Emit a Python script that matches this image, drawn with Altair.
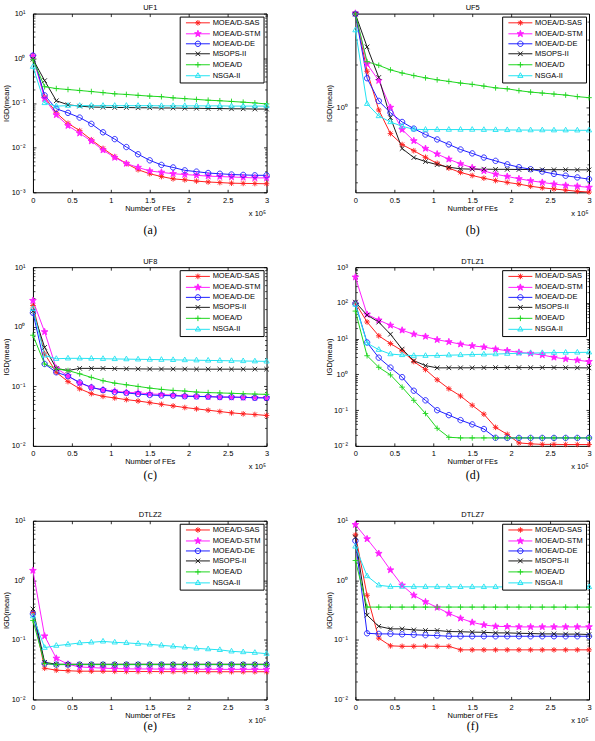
import math

import altair as alt
import pandas as pd

FONT = "Liberation Sans"
SERIF = "Liberation Serif"

# Evaluations, in units of 10^5 FEs
FES = [0.00, 0.15, 0.30, 0.45, 0.60, 0.75, 0.90, 1.05, 1.20, 1.35, 1.50,
       1.65, 1.80, 1.95, 2.10, 2.25, 2.40, 2.55, 2.70, 2.85, 3.00]

ALGORITHMS = ["MOEA/D-SAS", "MOEA/D-STM", "MOEA/D-DE", "MSOPS-II", "MOEA/D", "NSGA-II"]
COLORS = ["#ff1f1f", "#ff1fff", "#1f1fff", "#1a1a1a", "#1fd61f", "#22e3f2"]
FILLS = ["#ff1f1f", "#ff1fff", "transparent", "transparent", "transparent", "transparent"]
MARKERS = ["asterisk", "star", "circle", "x", "plus", "triangle"]

UF1 = {
    "MOEA/D-SAS": [1.15, 0.136, 0.060, 0.035, 0.024, 0.015, 0.0096, 0.0063, 0.0044, 0.0032, 0.0026,
                   0.00225, 0.0020, 0.0019, 0.00178, 0.0017, 0.00165, 0.0016, 0.00158, 0.00157, 0.00155],
    "MOEA/D-STM": [1.10, 0.125, 0.054, 0.031, 0.021, 0.014, 0.0088, 0.0060, 0.0044, 0.0036, 0.0030,
                   0.0028, 0.0026, 0.0025, 0.0024, 0.0023, 0.00225, 0.0022, 0.00215, 0.0021, 0.0021],
    "MOEA/D-DE": [1.15, 0.148, 0.074, 0.060, 0.047, 0.034, 0.022, 0.0155, 0.0103, 0.0071, 0.0052,
                  0.0041, 0.0036, 0.0031, 0.0029, 0.0027, 0.0026, 0.0025, 0.00245, 0.0024, 0.0024],
    "MSOPS-II": [0.95, 0.316, 0.112, 0.091, 0.085, 0.081, 0.080, 0.079, 0.079, 0.078, 0.078,
                 0.077, 0.077, 0.076, 0.076, 0.075, 0.075, 0.074, 0.074, 0.073, 0.073],
    "MOEA/D": [0.93, 0.231, 0.21, 0.20, 0.19, 0.18, 0.17, 0.16, 0.155, 0.148, 0.142,
               0.138, 0.13, 0.125, 0.12, 0.115, 0.112, 0.108, 0.104, 0.10, 0.095],
    "NSGA-II": [0.65, 0.10, 0.085, 0.087, 0.087, 0.087, 0.087, 0.087, 0.087, 0.087, 0.087,
                0.086, 0.086, 0.086, 0.086, 0.086, 0.086, 0.085, 0.085, 0.085, 0.085],
}

UF5 = {
    "MOEA/D-SAS": [4.53, 1.79, 0.96, 0.656, 0.55, 0.498, 0.448, 0.407, 0.376, 0.351, 0.334,
                   0.320, 0.308, 0.299, 0.291, 0.281, 0.274, 0.269, 0.264, 0.259, 0.256],
    "MOEA/D-STM": [4.55, 2.01, 1.54, 1.00, 0.70, 0.584, 0.516, 0.472, 0.434, 0.403, 0.379,
                   0.360, 0.341, 0.329, 0.317, 0.307, 0.299, 0.291, 0.285, 0.281, 0.276],
    "MOEA/D-DE": [4.50, 1.60, 1.11, 0.918, 0.791, 0.711, 0.646, 0.597, 0.551, 0.508, 0.477,
                  0.446, 0.423, 0.400, 0.382, 0.370, 0.356, 0.343, 0.333, 0.324, 0.315],
    "MSOPS-II": [4.50, 2.65, 1.62, 0.848, 0.516, 0.446, 0.418, 0.398, 0.382, 0.372, 0.370,
                 0.370, 0.369, 0.369, 0.368, 0.368, 0.367, 0.367, 0.367, 0.366, 0.366],
    "MOEA/D": [4.50, 2.09, 1.97, 1.83, 1.74, 1.67, 1.61, 1.56, 1.52, 1.48, 1.45,
               1.41, 1.37, 1.35, 1.31, 1.28, 1.26, 1.24, 1.22, 1.19, 1.17],
    "NSGA-II": [3.47, 1.06, 0.871, 0.791, 0.738, 0.703, 0.700, 0.700, 0.700, 0.700, 0.700,
                0.698, 0.697, 0.696, 0.695, 0.694, 0.694, 0.693, 0.693, 0.692, 0.692],
}

UF8 = {
    "MOEA/D-SAS": [2.27, 0.35, 0.172, 0.12, 0.091, 0.0752, 0.0678, 0.0637, 0.0597, 0.0567, 0.0532,
                   0.0499, 0.0469, 0.044, 0.0418, 0.0397, 0.0377, 0.0358, 0.0345, 0.0336, 0.0324],
    "MOEA/D-STM": [2.75, 0.82, 0.20, 0.15, 0.113, 0.096, 0.087, 0.083, 0.079, 0.0777, 0.0745,
                   0.073, 0.071, 0.069, 0.068, 0.067, 0.066, 0.0655, 0.065, 0.0648, 0.0645],
    "MOEA/D-DE": [1.72, 0.237, 0.172, 0.148, 0.116, 0.0957, 0.0865, 0.080, 0.0774, 0.074, 0.0714,
                  0.070, 0.0695, 0.068, 0.0675, 0.067, 0.066, 0.066, 0.0655, 0.064, 0.0637],
    "MSOPS-II": [1.83, 0.45, 0.20, 0.184, 0.20, 0.20, 0.20, 0.198, 0.197, 0.196, 0.195,
                 0.195, 0.195, 0.195, 0.194, 0.194, 0.194, 0.194, 0.194, 0.194, 0.194],
    "MOEA/D": [0.72, 0.237, 0.195, 0.184, 0.162, 0.141, 0.124, 0.113, 0.106, 0.0995, 0.0933,
               0.0887, 0.0853, 0.0832, 0.080, 0.0785, 0.0774, 0.0763, 0.0751, 0.074, 0.0732],
    "NSGA-II": [2.00, 0.33, 0.29, 0.295, 0.295, 0.293, 0.29, 0.288, 0.286, 0.284, 0.282,
                0.28, 0.278, 0.276, 0.274, 0.272, 0.27, 0.268, 0.266, 0.264, 0.262],
}

DTLZ1 = {
    "MOEA/D-SAS": [100, 29.2, 12.0, 7.3, 4.6, 2.28, 1.36, 0.705, 0.397, 0.249, 0.137,
                   0.077, 0.033, 0.021, 0.0121, 0.0114, 0.011, 0.011, 0.0109, 0.0109, 0.0109],
    "MOEA/D-STM": [525, 47.6, 33.0, 23.6, 17.2, 13.3, 11.5, 9.3, 8.15, 7.0, 6.3,
                   5.8, 5.1, 4.6, 4.13, 3.87, 3.48, 3.0, 2.7, 2.5, 2.28],
    "MOEA/D-DE": [96, 7.8, 2.94, 1.55, 0.836, 0.349, 0.188, 0.0995, 0.0724, 0.0526, 0.0399,
                  0.0296, 0.0168, 0.0167, 0.0167, 0.0167, 0.0167, 0.0167, 0.0167, 0.0167, 0.0167],
    "MSOPS-II": [105, 45.7, 29.0, 13.3, 5.1, 2.42, 1.76, 1.52, 1.53, 1.53, 1.53,
                 1.54, 1.55, 1.55, 1.55, 1.54, 1.55, 1.55, 1.54, 1.53, 1.52],
    "MOEA/D": [59, 3.33, 1.58, 0.97, 0.44, 0.188, 0.0805, 0.031, 0.0174, 0.0167, 0.0167,
               0.0167, 0.0167, 0.0167, 0.0167, 0.0167, 0.0167, 0.0167, 0.0167, 0.0167, 0.0167],
    "NSGA-II": [90, 7.5, 4.9, 3.7, 3.5, 3.33, 3.33, 3.36, 3.45, 3.5, 3.6,
                3.65, 3.7, 3.8, 3.9, 3.95, 4.0, 4.05, 4.1, 4.12, 4.15],
}

DTLZ2 = {
    "MOEA/D-SAS": [0.29, 0.0334, 0.031, 0.0303, 0.0298, 0.0298, 0.0298, 0.0296, 0.0294, 0.0294, 0.0294,
                   0.0293, 0.0293, 0.0293, 0.0293, 0.0292, 0.0292, 0.0292, 0.0292, 0.0292, 0.0292],
    "MOEA/D-STM": [1.46, 0.116, 0.049, 0.039, 0.0351, 0.0343, 0.0335, 0.033, 0.0326, 0.0325, 0.0324,
                   0.0323, 0.0322, 0.0322, 0.0321, 0.0321, 0.032, 0.032, 0.032, 0.032, 0.032],
    "MOEA/D-DE": [0.274, 0.040, 0.0385, 0.0385, 0.0385, 0.0385, 0.0385, 0.0385, 0.0385, 0.0385, 0.0385,
                  0.0385, 0.0385, 0.0385, 0.0385, 0.0385, 0.0385, 0.0385, 0.0385, 0.0385, 0.0385],
    "MSOPS-II": [0.33, 0.042, 0.039, 0.039, 0.039, 0.039, 0.039, 0.039, 0.039, 0.039, 0.039,
                 0.039, 0.039, 0.039, 0.039, 0.039, 0.039, 0.039, 0.039, 0.039, 0.039],
    "MOEA/D": [0.212, 0.040, 0.0385, 0.0385, 0.0385, 0.0385, 0.0385, 0.0385, 0.0385, 0.0385, 0.0385,
               0.0385, 0.0385, 0.0385, 0.0385, 0.0385, 0.0385, 0.0385, 0.0385, 0.0385, 0.0385],
    "NSGA-II": [0.25, 0.074, 0.080, 0.084, 0.0887, 0.091, 0.0944, 0.091, 0.089, 0.0865, 0.0842,
                0.081, 0.078, 0.075, 0.072, 0.070, 0.068, 0.0643, 0.0625, 0.061, 0.0587],
}

DTLZ7 = {
    "MOEA/D-SAS": [5.8, 0.56, 0.107, 0.0794, 0.078, 0.078, 0.0785, 0.078, 0.078, 0.068, 0.068,
                   0.068, 0.068, 0.068, 0.068, 0.068, 0.068, 0.068, 0.068, 0.068, 0.068],
    "MOEA/D-STM": [8.6, 4.95, 2.82, 1.49, 0.826, 0.56, 0.435, 0.35, 0.278, 0.23, 0.197,
                   0.178, 0.169, 0.167, 0.165, 0.165, 0.165, 0.165, 0.165, 0.165, 0.165],
    "MOEA/D-DE": [4.6, 0.129, 0.126, 0.126, 0.124, 0.122, 0.12, 0.118, 0.115, 0.115, 0.115,
                  0.115, 0.115, 0.115, 0.115, 0.115, 0.115, 0.115, 0.115, 0.115, 0.115],
    "MSOPS-II": [5.3, 0.26, 0.169, 0.153, 0.153, 0.147, 0.144, 0.144, 0.138, 0.137, 0.135,
                 0.134, 0.131, 0.131, 0.129, 0.128, 0.126, 0.126, 0.125, 0.125, 0.123],
    "MOEA/D": [2.15, 0.355, 0.355, 0.355, 0.355, 0.355, 0.355, 0.355, 0.355, 0.355, 0.355,
               0.355, 0.355, 0.355, 0.355, 0.355, 0.355, 0.355, 0.355, 0.355, 0.355],
    "NSGA-II": [3.7, 1.18, 0.826, 0.784, 0.784, 0.78, 0.778, 0.777, 0.776, 0.776, 0.775,
                0.775, 0.775, 0.775, 0.775, 0.775, 0.775, 0.775, 0.775, 0.775, 0.775],
}

# title, caption, values, y domain, y tick values, caption distance below the plot
PANELS = [
    ("UF1", "(a)", UF1, [1e-3, 10], [1e-3, 1e-2, 1e-1, 1, 10], 37),
    ("UF5", "(b)", UF5, [0.255, 4.53], [1], 37),
    ("UF8", "(c)", UF8, [1e-2, 10], [1e-2, 1e-1, 1, 10], 29),
    ("DTLZ1", "(d)", DTLZ1, [1e-2, 1e3], [1e-2, 1e-1, 1, 10, 100, 1000], 29),
    ("DTLZ2", "(e)", DTLZ2, [1e-2, 10], [1e-2, 1e-1, 1, 10], 26),
    ("DTLZ7", "(f)", DTLZ7, [1e-2, 10], [1e-2, 1e-1, 1, 10], 26),
]

X_TICKS = [0, 0.5, 1, 1.5, 2, 2.5, 3]

W, H = 234, 179
TICK = 3
MINOR_TICK = 2
FS = 7.5

# marker radius in pixels
MARKER_PX = {"asterisk": 2.8, "star": 3.5, "circle": 2.7, "x": 2.3, "plus": 2.8, "triangle": 3.0}


def f(v):
    return f"{v:.4f}".rstrip("0").rstrip(".")


def marker_path(kind, r, cx=0.0):
    """SVG path of a marker of radius r centred on (cx, 0)."""
    def p(x, y):
        return f"{f(cx + x)},{f(y)}"

    if kind == "circle":
        return f"M{p(r, 0)}A{f(r)},{f(r)} 0 1,1 {p(-r, 0)}A{f(r)},{f(r)} 0 1,1 {p(r, 0)}Z"
    if kind == "plus":
        return f"M{p(-r, 0)}L{p(r, 0)}M{p(0, -r)}L{p(0, r)}"
    if kind == "x":
        return f"M{p(-r, -r)}L{p(r, r)}M{p(-r, r)}L{p(r, -r)}"
    if kind == "asterisk":
        d = r * 0.72
        return (f"M{p(-r, 0)}L{p(r, 0)}M{p(0, -r)}L{p(0, r)}"
                f"M{p(-d, -d)}L{p(d, d)}M{p(-d, d)}L{p(d, -d)}")
    if kind == "triangle":
        return f"M{p(0, -r)}L{p(0.87 * r, 0.55 * r)}L{p(-0.87 * r, 0.55 * r)}Z"
    if kind == "star":
        pts = []
        for i in range(10):
            ang = math.radians(-90 + 36 * i)
            rr = r if i % 2 == 0 else r * 0.4
            pts.append(p(rr * math.cos(ang), rr * math.sin(ang)))
        return "M" + "L".join(pts) + "Z"
    raise ValueError(kind)


# markers on the curves: size 36 -> one path unit is 3 px
PLOT_SIZE = 36
PLOT_SHAPES = [marker_path(k, MARKER_PX[k] / 3.0) for k in MARKERS]
# legend swatches: size 36 -> one path unit is 3 px; a 24 px line starting at the
# swatch anchor, with the marker in its middle
LEGEND_SIZE = 36
LEGEND_SHAPES = ["M0,0H8" + marker_path(k, MARKER_PX[k] / 3.0, cx=4.0) for k in MARKERS]

Y_LABELS = ("datum.value > 500 ? '10³' : datum.value > 50 ? '10²' : datum.value > 5 ? '10¹' : "
            "datum.value > 0.5 ? '10⁰' : datum.value > 0.05 ? '10⁻¹' : "
            "datum.value > 0.005 ? '10⁻²' : '10⁻³'")


def minor_ticks(lo, hi):
    """Log-axis minor tick positions 2..9 x 10^k inside [lo, hi]."""
    out = []
    for k in range(-4, 4):
        for m in range(2, 10):
            v = m * 10.0 ** k
            if lo * 1.0001 < v < hi * 0.9999:
                out.append(v)
    return out


def panel(name, tag, table, y_domain, y_ticks, caption_gap):
    rows = [
        {"fe": x, "igd": v, "algo": algo}
        for algo in ALGORITHMS
        for x, v in zip(FES, table[algo])
    ]
    df = pd.DataFrame(rows)

    xs = alt.Scale(domain=[0, 3], nice=False, zero=False)
    ys = alt.Scale(type="log", domain=y_domain, nice=False)
    minors = minor_ticks(*y_domain)

    tick_style = dict(grid=False, domain=False, tickSize=TICK, tickColor="black", tickWidth=0.8)
    minor_style = dict(grid=False, domain=False, labels=False, title=None,
                       tickSize=MINOR_TICK, tickColor="black", tickWidth=0.7)
    title_style = dict(titleFont=FONT, titleFontSize=FS, titleFontWeight="normal", titleColor="black")

    # bottom edge: inward ticks, tick labels and x title
    x_main = alt.Axis(orient="top", offset=-H, values=X_TICKS, format="~g", labels=True,
                      labelPadding=-(TICK + 8), labelBaseline="middle", labelFont=FONT,
                      labelFontSize=FS, labelColor="black", labelFlush=False, labelOverlap=False,
                      title="Number of FEs", titleX=W / 2, titleY=16, titleAlign="center",
                      titleBaseline="middle", **tick_style, **title_style)
    # top edge: inward ticks and the panel title
    x_top = alt.Axis(orient="bottom", offset=-H, values=X_TICKS, labels=False,
                     title=name, titleX=W / 2, titleY=-4, titleAlign="center",
                     titleBaseline="alphabetic", **tick_style, **title_style)
    # caption under the panel
    x_caption = alt.Axis(orient="bottom", offset=0, values=X_TICKS, labels=False, ticks=False,
                         domain=False, grid=False, title=tag, titleX=W / 2, titleY=caption_gap,
                         titleAlign="center", titleBaseline="middle", titleFont=SERIF,
                         titleFontSize=12, titleFontWeight="normal", titleColor="black")
    # left edge: inward ticks, power-of-ten labels and y title
    y_main = alt.Axis(orient="right", offset=-W, values=y_ticks, labelExpr=Y_LABELS,
                      labelPadding=-(TICK + 8), labelAlign="right", labelBaseline="middle",
                      labelFont=FONT, labelFontSize=FS, labelColor="black", labelFlush=False,
                      labelOverlap=False, title="IGD(mean)", titleX=-26, titleY=H / 2,
                      titleAngle=270, titleAlign="center", titleBaseline="middle",
                      **tick_style, **title_style)
    # right edge: inward ticks and the x multiplier note
    y_right = alt.Axis(orient="left", offset=-W, values=y_ticks, labels=False,
                       title="x 10⁵", titleX=-1, titleY=H + 21, titleAngle=0,
                       titleAlign="right", titleBaseline="middle", **tick_style, **title_style)
    # minor log ticks on the left and right edges
    y_minor_left = alt.Axis(orient="right", offset=-W, values=minors, **minor_style)
    y_minor_right = alt.Axis(orient="left", offset=-W, values=minors, **minor_style)

    stroke_scale = alt.Scale(domain=ALGORITHMS, range=COLORS)
    fill_scale = alt.Scale(domain=ALGORITHMS, range=FILLS)

    lines = alt.Chart().mark_line(strokeWidth=1).encode(
        x=alt.X("fe:Q", scale=xs, axis=x_main),
        y=alt.Y("igd:Q", scale=ys, axis=y_main),
        stroke=alt.Stroke("algo:N", scale=stroke_scale, legend=None),
        detail="algo:N",
    )

    markers = alt.Chart().mark_point(size=PLOT_SIZE, strokeWidth=0.9, opacity=1).encode(
        x=alt.X("fe:Q", scale=xs, axis=x_top),
        y=alt.Y("igd:Q", scale=ys, axis=y_right),
        stroke=alt.Stroke("algo:N", scale=stroke_scale, legend=None),
        fill=alt.Fill("algo:N", scale=fill_scale, legend=None),
        shape=alt.Shape("algo:N", scale=alt.Scale(domain=ALGORITHMS, range=PLOT_SHAPES), legend=None),
    )

    legend = alt.Legend(
        title=None, orient="top-right", offset=3, fillColor="white", strokeColor="black",
        padding=2.5, symbolSize=LEGEND_SIZE, symbolStrokeWidth=1, symbolOpacity=1,
        symbolOffset=0, labelFont=FONT, labelFontSize=FS, labelColor="black",
        labelOffset=23, rowPadding=0, labelLimit=200, cornerRadius=0,
    )
    key = alt.Chart().transform_filter("false").mark_point(
        size=LEGEND_SIZE, strokeWidth=1, opacity=1
    ).encode(
        x=alt.X("fe:Q", scale=xs, axis=x_caption),
        y=alt.Y("igd:Q", scale=ys, axis=y_minor_left),
        stroke=alt.Stroke("algo:N", scale=stroke_scale, legend=legend),
        fill=alt.Fill("algo:N", scale=fill_scale, legend=legend),
        shape=alt.Shape("algo:N", scale=alt.Scale(domain=ALGORITHMS, range=LEGEND_SHAPES),
                        legend=legend),
    )

    right_minor = alt.Chart().transform_filter("false").mark_point().encode(
        x=alt.X("fe:Q", scale=xs, axis=None),
        y=alt.Y("igd:Q", scale=ys, axis=y_minor_right),
    )

    return (
        alt.layer(lines, markers, key, right_minor, data=df)
        .resolve_scale(stroke="independent", fill="independent", shape="independent")
        .resolve_axis(x="independent", y="independent")
        .properties(width=W, height=H)
    )


chart = (
    alt.concat(*[panel(*p) for p in PANELS], columns=2,
               spacing=alt.RowColnumber(row=75, column=89), bounds="flush")
    .properties(padding={"left": 2, "top": 2, "right": 0, "bottom": 0}, background="white")
    .configure(font=FONT)
    .configure_view(stroke="black", strokeWidth=1)
    .configure_legend(strokeColor="black", strokeWidth=1)
)

chart.save("out.html", embed_options={"renderer": "svg", "actions": False})
